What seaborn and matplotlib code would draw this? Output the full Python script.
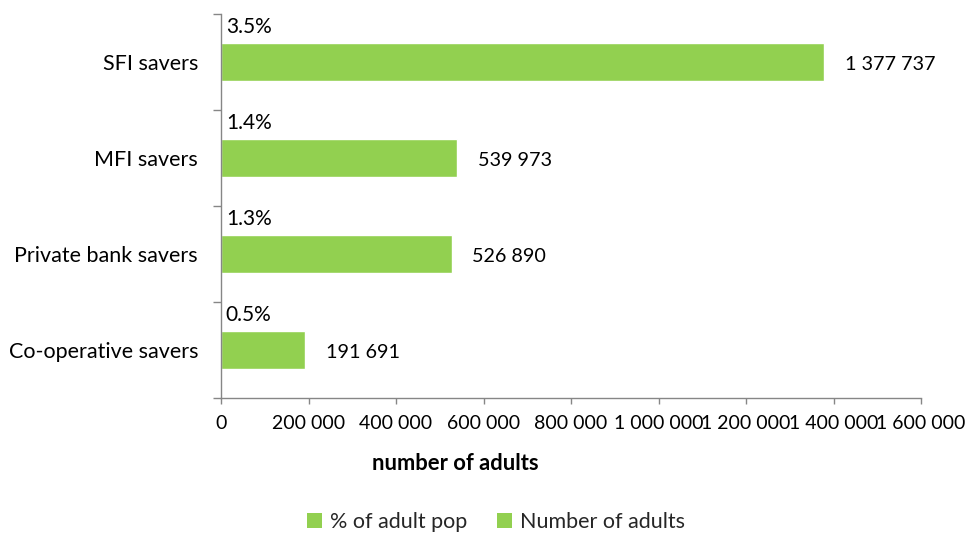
import matplotlib
matplotlib.use("Agg")
import matplotlib.pyplot as plt
import seaborn as sns
import pandas as pd
from matplotlib.patches import Patch
from matplotlib.ticker import FuncFormatter, FixedLocator

# Data
categories = ["SFI savers", "MFI savers", "Private bank savers", "Co-operative savers"]
adults = [1377737, 539973, 526890, 191691]
pct_adult_pop = [3.5, 1.4, 1.3, 0.5]
x_ticks = [0, 200000, 400000, 600000, 800000, 1000000, 1200000, 1400000, 1600000]
series_names = ["% of adult pop", "Number of adults"]

GREEN = "#92D050"
AXIS_GREY = "#868686"
FS_TEXT = 15.5   # words
FS_NUM = 14.0    # digit-heavy labels

sns.set_theme(style="white")
plt.rcParams["font.family"] = ["Lato", "DejaVu Sans"]


def spaced(v, _pos=None):
    return f"{int(round(v)):,}".replace(",", " ")


W, H = 965, 533
fig = plt.figure(figsize=(W / 100, H / 100), dpi=100)
ax = fig.add_axes([221 / W, 1 - 398 / H, 700 / W, 384 / H])

df = pd.DataFrame({"category": categories, "adults": adults})
sns.barplot(data=df, x="adults", y="category", orient="h", color=GREEN,
            saturation=1, width=0.4, ax=ax)

ax.set_xlim(x_ticks[0], x_ticks[-1])
ax.set_ylim(len(categories) - 0.5, -0.5)
ax.xaxis.set_major_locator(FixedLocator(x_ticks))
ax.xaxis.set_major_formatter(FuncFormatter(spaced))
ax.set_xlabel("")
ax.set_ylabel("")

# Category labels sit between the boundary tick marks
ax.set_yticks(range(len(categories)))
ax.set_yticklabels(categories)
ax.set_yticks([i - 0.5 for i in range(len(categories) + 1)], minor=True)
ax.tick_params(axis="y", which="major", length=0, pad=16.5, labelsize=FS_TEXT, labelcolor="black")
ax.tick_params(axis="y", which="minor", left=True, length=6, width=1, color=AXIS_GREY, direction="out")
ax.tick_params(axis="x", which="major", bottom=True, length=4.5, width=1, color=AXIS_GREY,
               direction="out", pad=8, labelsize=FS_NUM, labelcolor="black")

for side in ("top", "right"):
    ax.spines[side].set_visible(False)
for side in ("left", "bottom"):
    ax.spines[side].set_color(AXIS_GREY)
    ax.spines[side].set_linewidth(1.0)

# Value labels
for i, (n, p) in enumerate(zip(adults, pct_adult_pop)):
    ax.annotate(spaced(n), xy=(n, i), xytext=(15, -2), textcoords="offset points",
                ha="left", va="center", fontsize=FS_NUM + 0.2, color="black")
    ax.annotate(f"{p:.1f}%", xy=(0, i), xytext=(3.5, 25), textcoords="offset points",
                ha="left", va="center", fontsize=15.0, color="black")

fig.text(455 / W, 1 - 463 / H, "number of adults", ha="center", va="center",
         fontsize=15.8, fontweight="bold", color="black")

handles = [Patch(facecolor=GREEN, edgecolor="none", label=s) for s in series_names]
fig.legend(handles=handles, loc="center", bbox_to_anchor=(496 / W, 1 - 522 / H), ncol=2,
           frameon=False, fontsize=FS_TEXT, handlelength=0.7, handleheight=0.7,
           handletextpad=0.35, columnspacing=1.4)

fig.savefig("out.png", dpi=100, facecolor="white")
